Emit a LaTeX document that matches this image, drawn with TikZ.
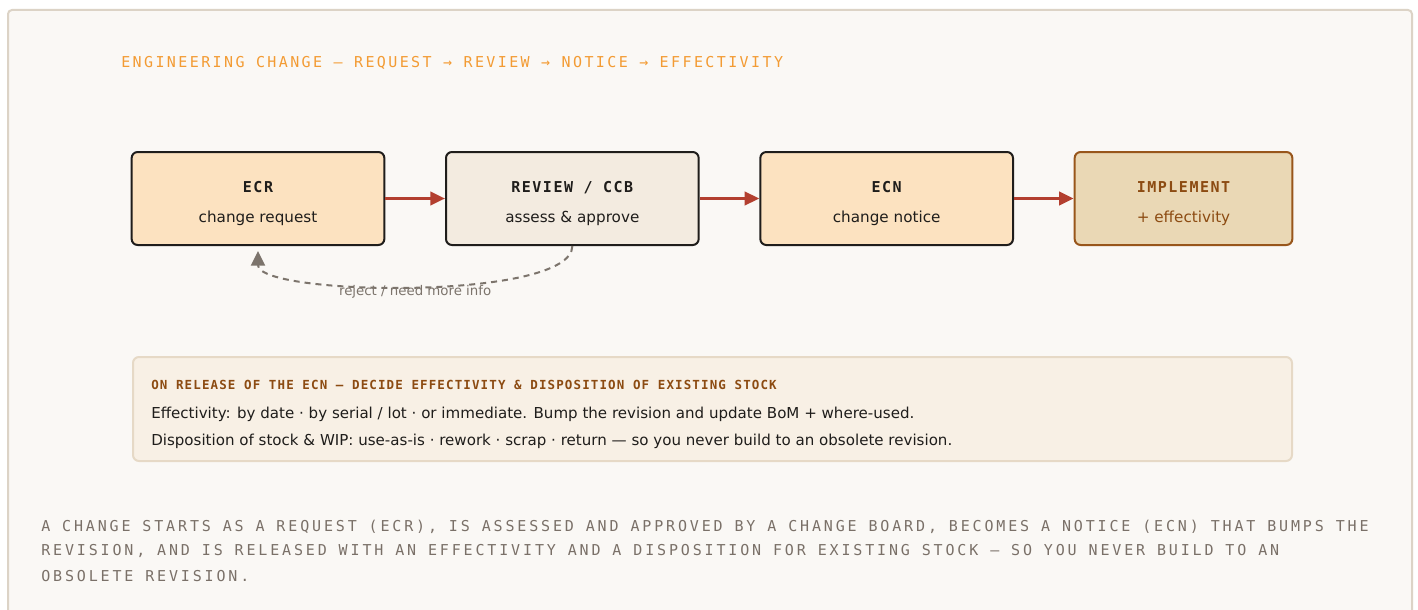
\documentclass[tikz,border=0pt]{standalone}
\usepackage{fontspec}
\setmainfont{DejaVu Sans}
\newfontfamily\headfont[LetterSpace=16]{DejaVu Sans Mono}
\newfontfamily\capsfont[LetterSpace=19]{DejaVu Sans Mono}
\newfontfamily\stagefont[LetterSpace=10]{DejaVu Sans Mono}
\newfontfamily\notefont[LetterSpace=9]{DejaVu Sans Mono}
\usetikzlibrary{arrows.meta}
\usetikzlibrary{positioning}
\usetikzlibrary{calc}

\definecolor{framebg}{HTML}{FAF8F5}
\definecolor{frameedge}{HTML}{DCD3C6}
\definecolor{accent}{HTML}{F39B33}
\definecolor{ink}{HTML}{1F1D1B}
\definecolor{peach}{HTML}{FCE2C0}
\definecolor{cream}{HTML}{F3EBE0}
\definecolor{tan}{HTML}{EAD8B5}
\definecolor{brownedge}{HTML}{98561B}
\definecolor{browntext}{HTML}{8C4B12}
\definecolor{flowred}{HTML}{B33F2F}
\definecolor{loopgray}{HTML}{7C746C}
\definecolor{notebg}{HTML}{F8F0E5}
\definecolor{noteedge}{HTML}{E6D9C6}
\definecolor{captext}{HTML}{7A7068}

\begin{document}
\begin{tikzpicture}[x=0.75pt,y=-0.75pt,inner sep=0pt,
    stagebox/.style={draw=ink,line width=1.5pt,rounded corners=4.5pt,fill=peach,
        minimum width=189.5pt,minimum height=69.75pt},
    stagetitle/.style={anchor=base,text=ink,
        font={\stagefont\bfseries\fontsize{11.25pt}{13pt}\selectfont}},
    stagesub/.style={anchor=base,text=ink,
        font={\fontsize{11.4pt}{13pt}\selectfont}},
    flow/.style={draw=flowred,line width=2.25pt,-{Triangle[length=11pt,width=10pt]}},
    backloop/.style={draw=loopgray,line width=1.5pt,dash pattern=on 4.5pt off 3.75pt,
        -{Triangle[length=11pt,width=10.5pt,fill=loopgray]}},
    looplabel/.style={text=loopgray,font={\fontsize{10pt}{12pt}\selectfont}},
    notebox/.style={draw=noteedge,line width=1.5pt,rounded corners=4.5pt,fill=notebg,
        minimum width=869.25pt,minimum height=78pt},
    noteline/.style={anchor=base west,text=ink,font={\fontsize{11.3pt}{13pt}\selectfont}},
    capline/.style={anchor=base west,text=captext,
        font={\capsfont\fontsize{11.25pt}{13pt}\selectfont}}]
        \useasboundingbox (0,0) rectangle (1418,610);
        \clip (0,0) rectangle (1418,610);
        \fill [white] (0,0) rectangle (1418,610);
        \draw [draw=frameedge,fill=framebg,line width=1.5pt,rounded corners=3pt]
            (8,10) rectangle (1412,660);
        % heading
        \node [anchor=base west,text=accent,
            font={\headfont\fontsize{11.25pt}{13pt}\selectfont}] (head) at (121,67.5)
            {ENGINEERING CHANGE — REQUEST → REVIEW → NOTICE → EFFECTIVITY};
        % the four stages
        \node [stagebox] (ecr) at (258,198.5) {};
        \node [stagebox,fill=cream,right=44.75pt of ecr] (review) {};
        \node [stagebox,right=44.75pt of review] (ecn) {};
        \node [stagebox,draw=brownedge,fill=tan,minimum width=163.25pt,
            right=44.75pt of ecn] (impl) {};
        \node [stagetitle] (ecr-t) at ($ (ecr) + (0,-6) $) {ECR};
        \node [stagesub] (ecr-s) at ($ (ecr) + (0,24) $) {change request};
        \node [stagetitle] (review-t) at ($ (review) + (0,-6) $) {REVIEW / CCB};
        \node [stagesub] (review-s) at ($ (review) + (0,24) $) {assess \& approve};
        \node [stagetitle] (ecn-t) at ($ (ecn) + (0,-6) $) {ECN};
        \node [stagesub] (ecn-s) at ($ (ecn) + (0,24) $) {change notice};
        \node [stagetitle,text=browntext] (impl-t) at ($ (impl) + (0,-6) $) {IMPLEMENT};
        \node [stagesub,text=browntext] (impl-s) at ($ (impl) + (0,24) $) {+ effectivity};
        \draw [flow] (ecr) -- (review);
        \draw [flow] (review) -- (ecn);
        \draw [flow] (ecn) -- (impl);
        % rejected requests go back
        \draw [backloop]
        (review.south) .. controls ($ (review.south) + (0,55) $)
            and ($ (ecr.south) + (0,50) $) .. ($ (ecr.south) + (0,5) $)
            node [looplabel,pos=0.5,yshift=-4.5pt] (reject) {reject / need more info};
        % release note
        \node [notebox,anchor=north west] (note) at (132,356) {};
        \node [anchor=base west,text=browntext,
            font={\notefont\bfseries\fontsize{9.375pt}{12pt}\selectfont}] (note-h)
            at (151,389) {ON RELEASE OF THE ECN — DECIDE EFFECTIVITY \& DISPOSITION OF EXISTING STOCK};
        \node [noteline] (note-a) at (151,418.5)
            {Effectivity: by date · by serial / lot · or immediate. Bump the revision and update BoM + where-used.};
        \node [noteline] (note-b) at (151,445.5)
            {Disposition of stock \& WIP: use-as-is · rework · scrap · return — so you never build to an obsolete revision.};
        % caption
        \node [capline] (cap1) at (41,531)
            {A CHANGE STARTS AS A REQUEST (ECR), IS ASSESSED AND APPROVED BY A CHANGE BOARD, BECOMES A NOTICE (ECN) THAT BUMPS THE};
        \node [capline] (cap2) at (41,555.5)
            {REVISION, AND IS RELEASED WITH AN EFFECTIVITY AND A DISPOSITION FOR EXISTING STOCK — SO YOU NEVER BUILD TO AN};
        \node [capline] (cap3) at (41,581.5) {OBSOLETE REVISION.};
    \end{tikzpicture}
\end{document}
